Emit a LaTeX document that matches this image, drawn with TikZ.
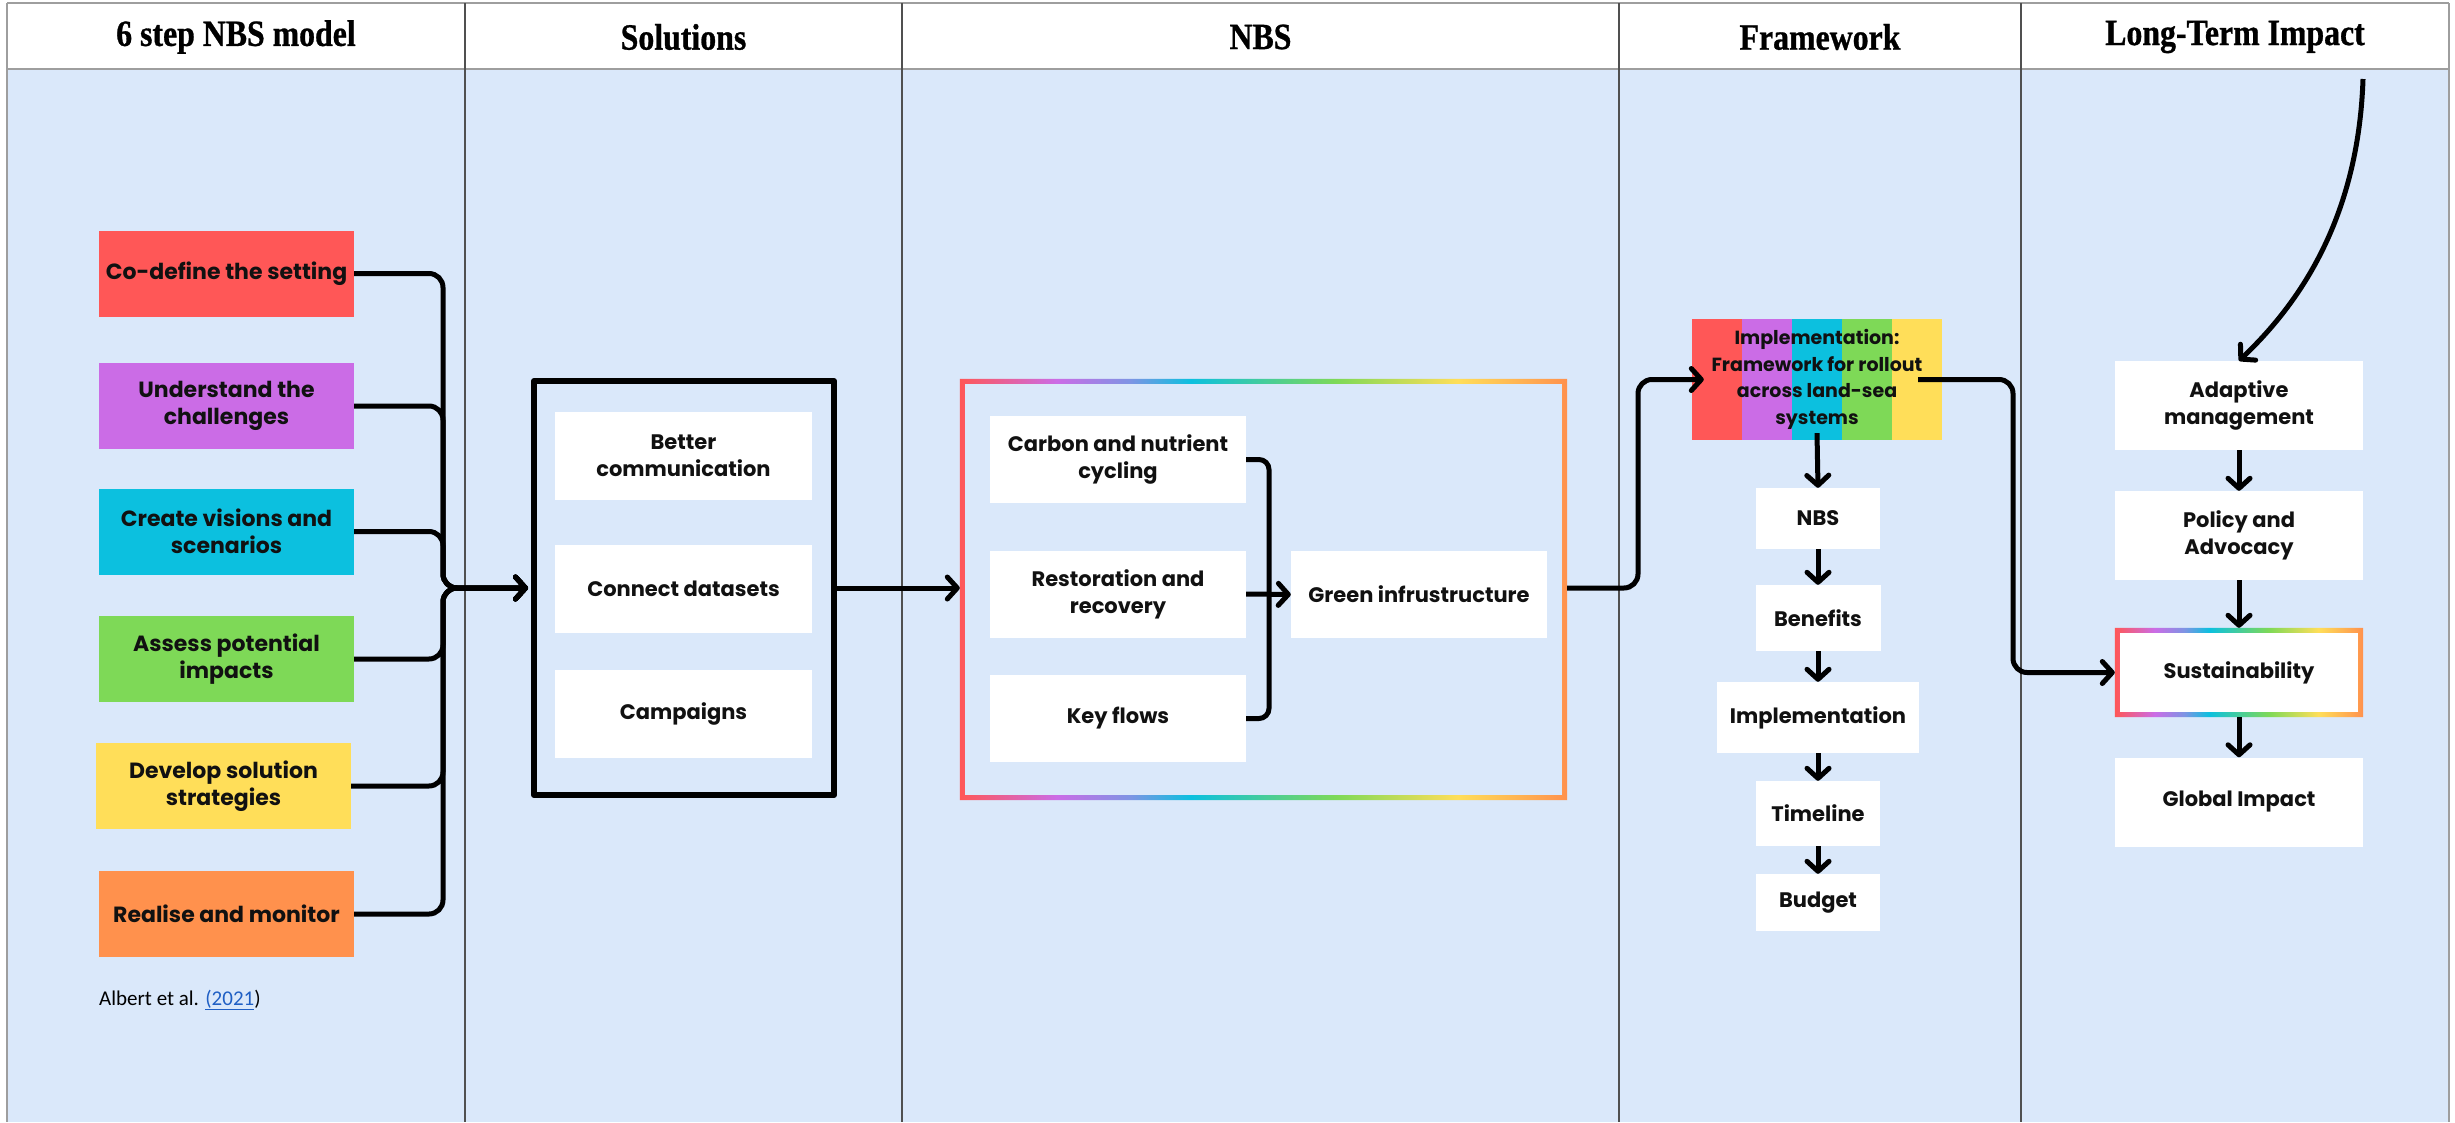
\documentclass[tikz,border=0pt]{standalone}
\usepackage{fontspec}
\setmainfont{Poppins}
\newfontfamily\headfont{Liberation Serif}[FakeStretch=0.86, FakeBold=0.8]
\newfontfamily\citefont{Carlito}
\usetikzlibrary{arrows.meta,calc}

\definecolor{pagebg}{RGB}{218,232,250}
\definecolor{cred}{HTML}{FF5757}
\definecolor{cpurple}{HTML}{CB6CE6}
\definecolor{cblue}{HTML}{7E94E4}
\definecolor{ccyan}{HTML}{0CC0DF}
\definecolor{cgreen}{HTML}{7ED957}
\definecolor{cyellow}{HTML}{FFDE59}
\definecolor{corange}{HTML}{FF914D}
\definecolor{rulegrey}{HTML}{505050}
\definecolor{framegrey}{HTML}{9E9E9E}
\definecolor{linkblue}{HTML}{1F5FC4}
\definecolor{inkblack}{HTML}{111111}

% rainbow used for the highlighted frames (middle 25bp..75bp spans the path)
\pgfdeclarehorizontalshading{rainbow}{100bp}{%
  color(0bp)=(cred); color(25bp)=(cred); color(33bp)=(cpurple);
  color(39bp)=(cblue); color(44bp)=(ccyan); color(56bp)=(cgreen);
  color(66bp)=(cyellow); color(75bp)=(corange); color(100bp)=(corange)}

\tikzset{
  headtext/.style={font=\headfont\bfseries\fontsize{37}{40}\selectfont, text=black},
  stepbox/.style={rectangle, inner sep=0pt, minimum width=255pt, minimum height=86pt,
    align=center, text=inkblack, font=\bfseries\fontsize{22}{27}\selectfont},
  whitebox/.style={rectangle, fill=white, inner sep=0pt, align=center, text=inkblack,
    font=\bfseries\fontsize{21}{27}\selectfont},
  conn/.style={line width=5pt, black, rounded corners=14pt},
  arr/.style={-{Straight Barb[length=10pt,width=22pt,round]}},
  colrule/.style={rulegrey, line width=1.4pt},
}

\begin{document}
\begin{tikzpicture}[x=1pt, y=-1pt, line join=round]
\useasboundingbox (0,0) rectangle (2455,1122);

% page, header strip and column rules
\fill[white] (0,0) rectangle (2455,1122);
\fill[pagebg] (8,69) rectangle (2448,1122);
\draw[framegrey, line width=2.5pt] (7,3) -- (7,1122);
\draw[framegrey, line width=2.5pt] (2449,3) -- (2449,1122);
\draw[framegrey, line width=2pt] (7,3) -- (2449,3);
\draw[framegrey, line width=2.5pt] (7,69) -- (2449,69);
\foreach \x in {465,902,1619,2021} \draw[colrule] (\x,3) -- (\x,1122);

% column titles
\node[headtext] (h1) at (236,37) {6 step NBS model};
\node[headtext] (h2) at (683.5,37) {Solutions};
\node[headtext] (h3) at (1260.5,37) {NBS};
\node[headtext] (h4) at (1820,37) {Framework};
\node[headtext] (h5) at (2235,37) {Long-Term Impact};

% six steps
\node[stepbox, fill=cred]    (s1) at (226.5,273.5) {Co-define the setting};
\node[stepbox, fill=cpurple] (s2) at (226.5,406)   {Understand the\\challenges};
\node[stepbox, fill=ccyan]   (s3) at (226.5,531.5) {Create visions and\\scenarios};
\node[stepbox, fill=cgreen]  (s4) at (226.5,659)   {Assess potential\\impacts};
\node[stepbox, fill=cyellow] (s5) at (223.5,786)   {Develop solution\\strategies};
\node[stepbox, fill=corange] (s6) at (226.5,914)   {Realise and monitor};
\node[anchor=base west, inner sep=0pt, font=\citefont\fontsize{21}{24}\selectfont, text=black]
  (cite) at (99,1005) {Albert et al. {\color{linkblue}\underline{(2021}})};

% solutions
\node[draw=black, line width=6pt, minimum width=300pt, minimum height=414pt, inner sep=0pt]
  (sol) at (684,588) {};
\node[whitebox, minimum width=257pt, minimum height=88pt] (b1) at (683.5,456)   {Better\\communication};
\node[whitebox, minimum width=257pt, minimum height=88pt] (b2) at (683.5,588.5) {Connect datasets};
\node[whitebox, minimum width=257pt, minimum height=88pt] (b3) at (683.5,714)   {Campaigns};

\coordinate (bus) at (443,588);
\foreach \s in {s1,s2,s3,s4,s5,s6}
  \draw[conn, arr, shorten >=3pt] (\s.east) -| (bus) -- (sol.west);

% nature-based solutions
\node[minimum width=607pt, minimum height=421pt, inner sep=0pt] (nbs) at (1263.5,589.5) {};
\shade[shading=rainbow, even odd rule]
  (nbs.north west) rectangle (nbs.south east)
  ([shift={(5,5)}]nbs.north west) rectangle ([shift={(-5,-5)}]nbs.south east);
\node[whitebox, minimum width=256pt, minimum height=87pt] (n1) at (1118,459.5) {Carbon and nutrient\\cycling};
\node[whitebox, minimum width=256pt, minimum height=87pt] (n2) at (1118,594)   {Restoration and\\recovery};
\node[whitebox, minimum width=256pt, minimum height=87pt] (n3) at (1118,718.5) {Key flows};
\node[whitebox, minimum width=256pt, minimum height=87pt] (n4) at (1419,594.5) {Green infrustructure};

\draw[conn, arr] (sol.east) -- (sol.east -| nbs.west);
\coordinate (brk) at (1269,594);
\draw[conn, rounded corners=10pt] (n1.east) -| (brk) |- (n3.east);
\draw[conn, arr] (n2.east) -- (n4.west);

% framework
\node[inner sep=0pt, minimum width=250pt, minimum height=121pt, align=center, text=inkblack,
  font=\bfseries\fontsize{19}{26.5}\selectfont,
  path picture={
    \foreach \c [count=\i from 0] in {cred,cpurple,ccyan,cgreen,cyellow}
      \fill[\c] ($(path picture bounding box.north west)+(\i*50,0)$)
        rectangle ($(path picture bounding box.south west)+(\i*50+50,0)$);
  }] (impl) at (1817,379.5) {Implementation:\\Framework for rollout\\across land-sea\\systems};

\coordinate (jog) at (1638,588);
\draw[conn, arr] (jog -| nbs.east) -- (jog) |- ([xshift=12pt]impl.west);

\node[whitebox, minimum width=124pt, minimum height=61pt] (f1) at (1818,518.5) {NBS};
\node[whitebox, minimum width=125pt, minimum height=66pt] (f2) at (1818,618)   {Benefits};
\node[whitebox, minimum width=202pt, minimum height=71pt] (f3) at (1818,717.5) {Implementation};
\node[whitebox, minimum width=124pt, minimum height=65pt] (f4) at (1818,813.5) {Timeline};
\node[whitebox, minimum width=124pt, minimum height=57pt] (f5) at (1818,902.5) {Budget};

\draw[conn, arr] ([yshift=7pt]impl.south) -- (f1.north);
\draw[conn, arr] (f1.south) -- (f2.north);
\draw[conn, arr] (f2.south) -- (f3.north);
\draw[conn, arr] (f3.south) -- (f4.north);
\draw[conn, arr] (f4.south) -- (f5.north);

% long-term impact
\node[whitebox, minimum width=248pt, minimum height=89pt] (l1)  at (2239,405.5) {Adaptive\\management};
\node[whitebox, minimum width=248pt, minimum height=89pt] (l2)  at (2239,535.5) {Policy and\\Advocacy};
\node[whitebox, minimum width=248pt, minimum height=89pt] (sus) at (2239,672.5) {Sustainability};
\node[whitebox, minimum width=248pt, minimum height=89pt] (l4)  at (2239,802)   {Global Impact};
\shade[shading=rainbow, even odd rule]
  (sus.north west) rectangle (sus.south east)
  ([shift={(5,5)}]sus.north west) rectangle ([shift={(-5,-5)}]sus.south east);

\coordinate (drop) at (2013,500);
\draw[conn, arr] ([xshift=-24pt]impl.east) -| (drop) |- (sus.west);

\draw[conn, arr] (l1.south) -- (l2.north);
\draw[conn, arr] (l2.south) -- (sus.north);
\draw[conn, arr] (sus.south) -- (l4.north);

\coordinate (feedback) at (2363,79);
\draw[conn, arr] (feedback) .. controls (2358,230) and (2289,313) .. (l1.north);
\end{tikzpicture}
\end{document}
